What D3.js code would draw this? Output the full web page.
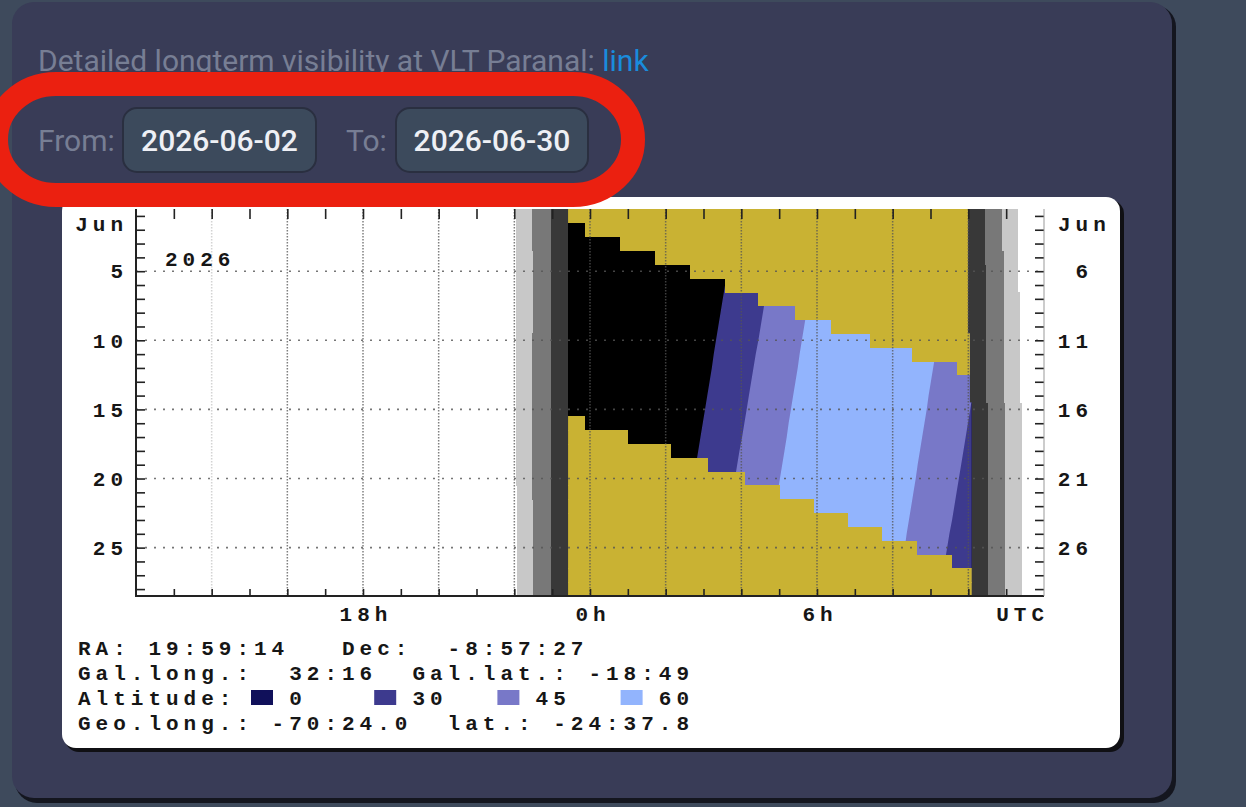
<!DOCTYPE html>
<html><head><meta charset="utf-8">
<script src="https://cdn.jsdelivr.net/npm/d3@7"></script>
<style>
html,body{margin:0;padding:0;background:#3e4a5c;}
svg{display:block;}
.mono{font-family:"Liberation Mono","DejaVu Sans Mono",monospace;font-weight:bold;font-size:21px;letter-spacing:5px;fill:#161616;}
.ui{font-family:Roboto,"Noto Sans",sans-serif;}
</style></head><body>
<svg id="c" width="1246" height="807"></svg>
<script>
// ---------------- data ----------------
const days = [1,2,3,4,5,6,7,8,9,10,11,12,13,14,15,16,17,18,19,20,21,22,23,24,25,26,27,28];
const leftDayLabels = [5,10,15,20,25];
const rightDayLabels = ["6","11","16","21","26"];
const monthLabel = "Jun";
const yearLabel = "2026";
const hourTicks = [13,14,15,16,17,18,19,20,21,22,23,24,25,26,27,28,29,30,31,32,33,34,35];
const hourGrid = [14,16,18,20,22,24,26,28,30,32,34];
const dayGrid = [5,10,15,20,25];
const hourLabelValues = [18,24,30];
const hourLabelText = ["18h","0h","6h"];
const utcLabel = "UTC";

// evening twilight (UTC hours, 24 = midnight)
const sunsetH     = [22.04,22.04,22.04,22.04,22.04,22.04,22.04,22.04,22.04,22.04,22.05,22.05,22.05,22.05,22.05,22.05,22.05,22.05,22.05,22.05,22.06,22.06,22.06,22.06,22.06,22.06,22.06,22.06];
const civilEveH   = [22.47,22.47,22.47,22.49,22.49,22.49,22.49,22.49,22.49,22.47,22.47,22.47,22.47,22.47,22.47,22.47,22.47,22.47,22.47,22.47,22.47,22.50,22.50,22.50,22.50,22.50,22.50,22.50];
const nauticalEveH= [22.97,22.97,22.97,22.97,22.97,22.97,22.97,22.97,22.97,22.97,22.97,22.97,22.97,22.97,22.97,22.97,22.97,22.97,22.97,22.97,22.97,22.97,22.97,22.97,22.97,22.97,22.97,22.97];
const nightStartH = [23.42,23.42,23.42,23.42,23.42,23.42,23.42,23.42,23.42,23.42,23.42,23.42,23.42,23.42,23.42,23.42,23.42,23.42,23.42,23.42,23.42,23.42,23.42,23.42,23.42,23.42,23.42,23.42];
// morning twilight
const nightEndH   = [33.99,33.99,33.99,33.99,33.99,33.99,33.99,33.99,33.99,34.04,34.04,34.04,34.04,34.04,34.09,34.09,34.09,34.09,34.09,34.09,34.09,34.09,34.09,34.09,34.09,34.09,34.09,34.09];
const nauticalMornH=[34.44,34.44,34.44,34.44,34.48,34.48,34.48,34.48,34.48,34.48,34.48,34.48,34.48,34.48,34.52,34.52,34.52,34.52,34.52,34.52,34.52,34.52,34.52,34.52,34.52,34.52,34.52,34.52];
const civilMornH  = [34.89,34.89,34.89,34.94,34.94,34.94,34.94,34.94,34.94,34.94,34.94,34.94,34.94,34.94,34.97,34.97,34.97,34.97,34.97,34.97,34.97,34.97,34.97,34.97,34.97,34.97,34.97,34.97];
const sunriseH    = [35.32,35.32,35.32,35.32,35.32,35.32,35.37,35.37,35.37,35.37,35.37,35.37,35.37,35.37,35.41,35.41,35.41,35.41,35.41,35.41,35.41,35.41,35.41,35.41,35.41,35.41,35.41,35.41];

// object altitude crossings (UTC hours)
const rise30H = [27.87,27.81,27.75,27.69,27.63,27.57,27.51,27.45,27.39,27.33,27.27,27.22,27.16,27.10,27.04,26.98,26.92,26.86,26.80,26.74,26.68,26.63,26.57,26.51,26.45,26.39,26.33,26.27];
const rise45H = [29.00,28.94,28.88,28.81,28.75,28.69,28.63,28.57,28.51,28.45,28.38,28.32,28.26,28.20,28.14,28.08,28.02,27.95,27.89,27.83,27.77,27.71,27.65,27.58,27.52,27.46,27.40,27.34];
const rise60H = [30.12,30.06,30.01,29.95,29.89,29.83,29.78,29.72,29.66,29.60,29.54,29.49,29.43,29.37,29.31,29.25,29.20,29.14,29.08,29.02,28.96,28.91,28.85,28.79,28.73,28.67,28.62,28.56];
const set60H  = [33.71,33.65,33.59,33.54,33.48,33.42,33.36,33.30,33.25,33.19,33.13,33.07,33.01,32.95,32.90,32.84,32.78,32.72,32.66,32.61,32.55,32.49,32.43,32.37,32.32,32.26,32.20,32.14];
const set45H  = [34.91,34.85,34.79,34.72,34.66,34.60,34.54,34.48,34.42,34.36,34.30,34.24,34.18,34.11,34.05,33.99,33.93,33.87,33.81,33.75,33.69,33.63,33.57,33.50,33.44,33.38,33.32,33.26];
const set30H  = [35.96,35.90,35.84,35.78,35.72,35.66,35.60,35.54,35.48,35.42,35.36,35.30,35.24,35.18,35.12,35.06,35.00,34.94,34.88,34.82,34.76,34.70,34.64,34.58,34.52,34.46,34.40,34.34];

// moon above horizon
const moonriseH = [22.95,23.87,24.79,25.72,26.64,27.57,28.44,29.42,30.37,31.40,32.51,33.70,null,null,null,null,null,null,null,null,null,null,null,null,null,null,null,null];
const moonsetH  = [null,null,null,null,null,null,null,null,null,null,null,null,null,null,null,23.87,25.00,26.14,27.12,28.10,29.02,29.92,30.82,31.72,32.64,33.57,34.60,35.60];

const altLegendValues = ["0","30","45","60"];
const altLegendColors = ["#10105a","#3d3a8e","#7878c8","#92b4fd"];
const infoLine1 = [[0,"RA:"],[4,"19:59:14"],[15,"Dec:"],[21,"-8:57:27"]];
const infoLine2 = [[0,"Gal.long.:"],[12,"32:16"],[19,"Gal.lat.:"],[29,"-18:49"]];
const infoLine3 = [[0,"Altitude:"]];
const altLegendCols = [10,17,24,31];
const infoLine4 = [[0,"Geo.long.:"],[11,"-70:24.0"],[21,"lat.:"],[27,"-24:37.8"]];

const headingText = "Detailed longterm visibility at VLT Paranal: ";
const linkText = "link";
const fromLabel = "From:", toLabel = "To:";
const fromDate = "2026-06-02", toDate = "2026-06-30";

// ---------------- drawing ----------------
const svg = d3.select("#c");
// panel
svg.append("rect").attr("x",15).attr("y",5).attr("width",1161).attr("height",798).attr("rx",22).attr("fill","#14161f");
svg.append("rect").attr("x",12).attr("y",2).attr("width",1160).attr("height",796).attr("rx",22).attr("fill","#393c57");

// heading (clipped at bottom)
svg.append("clipPath").attr("id","hclip").append("rect").attr("x",0).attr("y",0).attr("width",1246).attr("height",72);
const ht = svg.append("text").attr("class","ui").attr("x",38).attr("y",71).attr("font-size",30)
  .attr("clip-path","url(#hclip)").attr("fill","#777e94");
ht.append("tspan").text(headingText);
ht.append("tspan").attr("fill","#1a8cdc").text(linkText);

// date inputs
svg.append("text").attr("class","ui").attr("x",38).attr("y",151).attr("font-size",30).attr("fill","#777e94").text(fromLabel);
svg.append("rect").attr("x",123).attr("y",108).attr("width",193).attr("height",64).attr("rx",14).attr("fill","#3c4a5c").attr("stroke","#2a2f40").attr("stroke-width",2);
svg.append("text").attr("class","ui").attr("x",219.5).attr("y",151).attr("font-size",30).attr("font-weight",500).attr("text-anchor","middle").attr("fill","#eef0f5").text(fromDate);
svg.append("text").attr("class","ui").attr("x",346).attr("y",151).attr("font-size",30).attr("fill","#777e94").text(toLabel);
svg.append("rect").attr("x",396).attr("y",108).attr("width",192).attr("height",64).attr("rx",14).attr("fill","#3c4a5c").attr("stroke","#2a2f40").attr("stroke-width",2);
svg.append("text").attr("class","ui").attr("x",492).attr("y",151).attr("font-size",30).attr("font-weight",500).attr("text-anchor","middle").attr("fill","#eef0f5").text(toDate);

// white chart card
svg.append("rect").attr("x",65).attr("y",200).attr("width",1059).attr("height",552).attr("rx",14).attr("fill","#101014");
svg.append("rect").attr("x",62).attr("y",197).attr("width",1058).attr("height",551).attr("rx",14).attr("fill","#ffffff");

const xS = d3.scaleLinear().domain([12,36]).range([136,1044]);
const yS = d3.scaleLinear().domain([0.5,28.5]).range([209,596]);
const rows = days.map((d,i)=>({d,i,y0:yS(d-0.5),y1:yS(d+0.5)}));

const plot = svg.append("g").attr("shape-rendering","crispEdges");
function rowRects(cls, a, b, color){
  plot.selectAll("rect."+cls).data(rows).join("rect").attr("class",cls)
    .attr("x",r=>xS(a[r.i])).attr("width",r=>Math.max(0,xS(b[r.i])-xS(a[r.i])))
    .attr("y",r=>r.y0).attr("height",r=>r.y1-r.y0+0.6).attr("fill",color);
}
rowRects("tw1",sunsetH,civilEveH,"#c8c8c8");
rowRects("tw2",civilEveH,nauticalEveH,"#787878");
rowRects("tw3",nauticalEveH,nightStartH,"#383838");
rowRects("tw4",nightEndH,nauticalMornH,"#383838");
rowRects("tw5",nauticalMornH,civilMornH,"#787878");
rowRects("tw6",civilMornH,sunriseH,"#c8c8c8");
rowRects("night",nightStartH,nightEndH,"#000000");

// clip for night
const cp = svg.append("clipPath").attr("id","nightclip");
cp.selectAll("rect").data(rows).join("rect")
  .attr("x",r=>xS(nightStartH[r.i])).attr("width",r=>xS(nightEndH[r.i])-xS(nightStartH[r.i]))
  .attr("y",r=>r.y0).attr("height",r=>r.y1-r.y0+0.6);
const ng = plot.append("g").attr("clip-path","url(#nightclip)");

function bandPts(riseA,setA){
  const pts = [{y:yS(0.5),a:riseA[0],b:setA[0]}];
  days.forEach((d,i)=>pts.push({y:yS(d),a:riseA[i],b:setA[i]}));
  pts.push({y:yS(28.5),a:riseA[27],b:setA[27]});
  return pts;
}
const area = d3.area().y(p=>p.y).x0(p=>xS(p.a)).x1(p=>xS(p.b));
[[rise30H,set30H,altLegendColors[1]],[rise45H,set45H,altLegendColors[2]],[rise60H,set60H,altLegendColors[3]]]
  .forEach(([r,s,c])=>ng.append("path").attr("d",area(bandPts(r,s))).attr("fill",c).attr("shape-rendering","auto"));

// moon
const moonColor = "#c9b233";
ng.selectAll("rect.mr").data(rows.filter(r=>moonriseH[r.i]!==null)).join("rect").attr("class","mr")
  .attr("x",r=>xS(moonriseH[r.i])).attr("width",r=>xS(36)-xS(moonriseH[r.i]))
  .attr("y",r=>r.y0).attr("height",r=>r.y1-r.y0+0.6).attr("fill",moonColor);
ng.selectAll("rect.ms").data(rows.filter(r=>moonsetH[r.i]!==null)).join("rect").attr("class","ms")
  .attr("x",xS(12)).attr("width",r=>xS(moonsetH[r.i])-xS(12))
  .attr("y",r=>r.y0).attr("height",r=>r.y1-r.y0+0.6).attr("fill",moonColor);

// grid
const grid = svg.append("g");
grid.selectAll("line.vg").data(hourGrid).join("line").attr("class","vg")
  .attr("x1",h=>xS(h)).attr("x2",h=>xS(h)).attr("y1",yS(0.5)).attr("y2",yS(28.5))
  .attr("stroke","#555").attr("stroke-width",1.5).attr("stroke-dasharray","1.5,1.5")
  .attr("opacity",h=>h===14?0.25:0.75);
grid.selectAll("line.hg").data(dayGrid).join("line").attr("class","hg")
  .attr("x1",xS(12)).attr("x2",xS(36)).attr("y1",d=>yS(d)).attr("y2",d=>yS(d))
  .attr("stroke","#555").attr("stroke-width",1.6).attr("stroke-dasharray","2,7").attr("opacity",0.8);

// axes
function styleAxis(g){ g.select(".domain").remove(); g.selectAll(".tick line").attr("stroke","#222").attr("stroke-width",1.6); }
svg.append("g").attr("transform",`translate(0,${yS(0.5)})`)
  .call(d3.axisTop(xS).tickValues(hourTicks).tickSizeInner(-10).tickSizeOuter(0).tickFormat(""))
  .call(styleAxis);
svg.append("g").attr("transform",`translate(0,${yS(28.5)})`)
  .call(d3.axisBottom(xS).tickValues(hourTicks).tickSizeInner(-7).tickSizeOuter(0).tickFormat(""))
  .call(styleAxis);
const xl = svg.append("g").attr("transform",`translate(2.5,${yS(28.5)})`)
  .call(d3.axisBottom(xS).tickValues(hourLabelValues).tickSize(0).tickPadding(10)
    .tickFormat((h,i)=>hourLabelText[i]));
xl.select(".domain").remove();
xl.selectAll("text").attr("class","mono").attr("font-size",null).attr("font-family",null).attr("fill",null);
svg.append("text").attr("class","mono").attr("x",xS(36)+5).attr("y",621).attr("text-anchor","end").text(utcLabel);

const yl = svg.append("g").attr("transform",`translate(${xS(12)},0)`)
  .call(d3.axisLeft(yS).tickValues(days).tickSizeInner(-9).tickSizeOuter(0).tickPadding(8)
    .tickFormat(d=>leftDayLabels.includes(d)?String(d):""));
styleAxis(yl);
yl.selectAll("text").attr("class","mono").attr("font-size",null).attr("font-family",null).attr("fill",null);
const yr = svg.append("g").attr("transform",`translate(${xS(36)},0)`)
  .call(d3.axisRight(yS).tickValues(days).tickSizeInner(-9).tickSizeOuter(0).tickPadding(49)
    .tickFormat(d=>{const k=leftDayLabels.indexOf(d);return k>=0?rightDayLabels[k]:"";}));
styleAxis(yr);
yr.selectAll("text").attr("class","mono").attr("font-size",null).attr("font-family",null).attr("fill",null).attr("text-anchor","end");

// frame lines
svg.append("line").attr("x1",xS(12)).attr("x2",xS(12)).attr("y1",yS(0.5)).attr("y2",yS(28.5)+1).attr("stroke","#222").attr("stroke-width",2);
svg.append("line").attr("x1",xS(12)).attr("x2",xS(36)).attr("y1",yS(28.5)).attr("y2",yS(28.5)).attr("stroke","#222").attr("stroke-width",2);
svg.append("line").attr("x1",xS(36)).attr("x2",xS(36)).attr("y1",yS(0.5)).attr("y2",yS(28.5)).attr("stroke","#999").attr("stroke-width",1);

svg.append("text").attr("class","mono").attr("x",128).attr("y",231).attr("text-anchor","end").text(monthLabel);
svg.append("text").attr("class","mono").attr("x",1058).attr("y",231).text(monthLabel);
svg.append("text").attr("class","mono").attr("x",165).attr("y",266).text(yearLabel);

// info lines
const colX = c => 78 + c*17.6;
[[infoLine1,655],[infoLine2,680],[infoLine3,705],[infoLine4,730]].forEach(([ln,y])=>{
  ln.forEach(([c,t])=>svg.append("text").attr("class","mono").attr("x",colX(c)).attr("y",y).text(t));
});
altLegendCols.forEach((c,i)=>{
  svg.append("rect").attr("x",colX(c)-3).attr("y",690).attr("width",22).attr("height",15).attr("fill",altLegendColors[i]);
  svg.append("text").attr("class","mono").attr("x",colX(c+2)).attr("y",705).text(altLegendValues[i]);
});

// red annotation
svg.append("rect").attr("x",-4).attr("y",84).attr("width",637).attr("height",111).attr("rx",60)
  .attr("fill","none").attr("stroke","#eb2010").attr("stroke-width",24);
</script>
</body></html>
